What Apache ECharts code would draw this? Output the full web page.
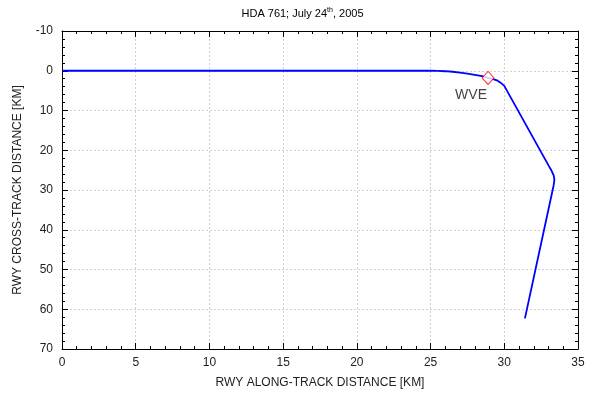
<!DOCTYPE html>
<html><head><meta charset="utf-8">
<script src="https://cdn.jsdelivr.net/npm/echarts@6/dist/echarts.min.js"></script>
<style>html,body{margin:0;padding:0;background:#fff}#c{width:605px;height:400px}</style>
</head><body><div id="c"></div>
<script>
const trackX = [0, 5, 10, 15, 20, 24, 25, 25.5, 26, 26.5, 27, 27.5, 28, 28.5, 28.9, 29.3, 29.55, 29.75, 30.0, 33.0, 33.2, 33.35, 33.4, 33.35, 31.4];
const trackY = [0, 0, 0, 0, 0, 0, 0, 0.05, 0.12, 0.25, 0.45, 0.72, 1.02, 1.38, 1.8, 2.15, 2.5, 3.0, 3.8, 23.8, 25.1, 26.3, 27.4, 28.8, 62.3];
const wveX = [28.9];
const wveY = [1.8];
const wveLabel = ['WVE'];
const xTicks = [0, 35, 5];
const yTicks = [-10, 70, 10];

const chart = echarts.init(document.getElementById('c'));
const font = 'Liberation Sans, Arial, sans-serif';
const baseAxis = {
  axisLine: {show: true, onZero: false, lineStyle: {color: '#000', width: 1}},
  axisTick: {show: true, inside: true, length: 6, lineStyle: {color: '#000'}},
  minorTick: {show: true, splitNumber: 5, length: 3, lineStyle: {color: '#000'}},
  splitLine: {show: false}
};
chart.setOption({
  animation: false,
  title: {
    text: 'HDA 761; July 24{sup|th}, 2005',
    left: 'center', top: 2,
    textStyle: {fontFamily: font, fontSize: 11, fontWeight: 'normal', color: '#000',
      rich: {sup: {fontFamily: font, fontSize: 7, color: '#000', padding: [0, 0, 6, 0]}}}
  },
  grid: {left: 62, right: 27, top: 31, bottom: 51, containLabel: false},
  xAxis: [
    Object.assign({}, baseAxis, {
      type: 'value', min: xTicks[0], max: xTicks[1], interval: xTicks[2], position: 'bottom',
      name: 'RWY ALONG-TRACK DISTANCE [KM]', nameLocation: 'middle', nameGap: 28,
      nameTextStyle: {fontFamily: font, fontSize: 12, color: '#222'},
      axisLabel: {fontFamily: font, fontSize: 12, color: '#222', margin: 8},
      splitLine: {show: true, lineStyle: {color: '#d0d0d0', type: [2, 2], width: 1}}
    }),
    Object.assign({}, baseAxis, {
      type: 'value', min: xTicks[0], max: xTicks[1], interval: xTicks[2], position: 'top',
      axisLabel: {show: false}
    })
  ],
  yAxis: [
    Object.assign({}, baseAxis, {
      type: 'value', min: yTicks[0], max: yTicks[1], interval: yTicks[2], inverse: true, position: 'left',
      name: 'RWY CROSS-TRACK DISTANCE [KM]', nameLocation: 'middle', nameGap: 38, nameRotate: 90,
      nameTextStyle: {fontFamily: font, fontSize: 12, color: '#222'},
      axisLabel: {fontFamily: font, fontSize: 12, color: '#222', margin: 9},
      splitLine: {show: true, lineStyle: {color: '#d0d0d0', type: [2, 2], width: 1}}
    }),
    Object.assign({}, baseAxis, {
      type: 'value', min: yTicks[0], max: yTicks[1], interval: yTicks[2], inverse: true, position: 'right',
      axisLabel: {show: false}
    })
  ],
  series: [
    {
      type: 'line', xAxisIndex: 0, yAxisIndex: 0, smooth: false, showSymbol: false,
      lineStyle: {color: '#0000ff', width: 1.8},
      data: trackX.map((x, i) => [x, trackY[i]])
    },
    {
      type: 'scatter', xAxisIndex: 0, yAxisIndex: 0, symbol: 'diamond', symbolSize: [12, 13], z: 5,
      itemStyle: {color: '#fff', borderColor: '#ff0000', borderWidth: 1},
      label: {show: true, formatter: (p) => wveLabel[p.dataIndex], position: 'bottom', offset: [-17, -2],
        fontFamily: font, fontSize: 14, color: '#111'},
      data: wveX.map((x, i) => [x, wveY[i]])
    }
  ]
});
</script></body></html>
